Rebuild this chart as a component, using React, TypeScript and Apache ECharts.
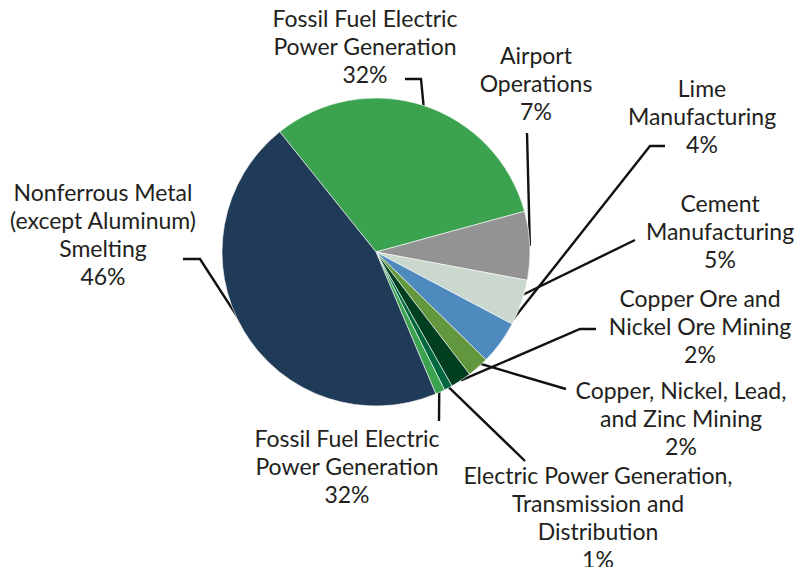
import React, { useEffect, useRef } from "react";
import * as echarts from "echarts";

const categories = [
  "Fossil Fuel Electric\nPower Generation",
  "Airport\nOperations",
  "Cement\nManufacturing",
  "Lime\nManufacturing",
  "Copper, Nickel, Lead,\nand Zinc Mining",
  "Copper Ore and\nNickel Ore Mining",
  "Electric Power Generation,\nTransmission and\nDistribution",
  "Fossil Fuel Electric\nPower Generation",
  "Nonferrous Metal\n(except Aluminum)\nSmelting",
];
const values = [31.5, 7.2, 4.8, 4.6, 2.25, 2.2, 0.86, 1.0, 45.6];
const percentLabels = ["32%", "7%", "5%", "4%", "2%", "2%", "1%", "32%", "46%"];
const colors = [
  "#3ba34f",
  "#939393",
  "#cbd8cd",
  "#4f8abf",
  "#62973e",
  "#003f1f",
  "#00673f",
  "#3ba34f",
  "#1f3b57",
];

// Layout only: label anchor (center) positions, leader bends, and inset of the leader end.
const CENTER = [376, 252];
const labelAnchors = [
  [365, 46],
  [536, 83],
  [720, 231],
  [702, 116],
  [681, 418],
  [700, 326],
  [598, 517],
  [347, 466],
  [103, 234],
];
const leaderBends: number[][][] = [
  [[421, 79], [405, 79]],
  [[527, 133], [527, 133]],
  [[635, 240], [635, 240]],
  [[650, 146], [665, 146]],
  [[566, 389], [566, 389]],
  [[580, 329], [596, 329]],
  [[525, 461], [525, 461]],
  [[439, 421], [439, 421]],
  [[200, 259], [183, 259]],
];
const leaderInset = [1.0, 1.0, 0.94, 0.97, 0.95, 1.0, 0.98, 0.985, 0.985];

export default function App() {
  const ref = useRef<HTMLDivElement>(null);
  useEffect(() => {
    if (!ref.current) return;
    const chart = echarts.init(ref.current, null, { renderer: "svg" });
    chart.setOption({
      animation: false,
      backgroundColor: "#ffffff",
      series: [
        {
          type: "pie",
          center: CENTER,
          radius: 154,
          startAngle: 128.7,
          clockwise: true,
          avoidLabelOverlap: false,
          minAngle: 0,
          data: categories.map((name, i) => ({
            name,
            value: values[i],
            itemStyle: { color: colors[i] },
          })),
          itemStyle: { borderColor: "#ffffff", borderWidth: 0.6 },
          label: {
            show: true,
            position: "outside",
            formatter: (p: any) => `${categories[p.dataIndex]}\n${percentLabels[p.dataIndex]}`,
            fontFamily: "Lato",
            fontSize: 23,
            lineHeight: 28,
            color: "#231f20",
            align: "center",
          },
          labelLine: {
            show: true,
            length: 10,
            length2: 10,
            lineStyle: { color: "#111111", width: 2.4 },
          },
          emphasis: { disabled: true },
          labelLayout: (params: any) => {
            const i = params.dataIndex;
            const pts = params.labelLinePoints;
            const k = leaderInset[i];
            let p0 = pts ? pts[0] : CENTER;
            p0 = [CENTER[0] + (p0[0] - CENTER[0]) * k, CENTER[1] + (p0[1] - CENTER[1]) * k];
            return {
              x: labelAnchors[i][0],
              y: labelAnchors[i][1],
              align: "center",
              verticalAlign: "middle",
              hideOverlap: false,
              labelLinePoints: [p0, leaderBends[i][0], leaderBends[i][1]],
            };
          },
        },
      ],
    });
    return () => chart.dispose();
  }, []);
  return (
    <div
      ref={ref}
      style={{ position: "fixed", left: 0, top: 0, width: 812, height: 567, background: "#fff" }}
    />
  );
}
